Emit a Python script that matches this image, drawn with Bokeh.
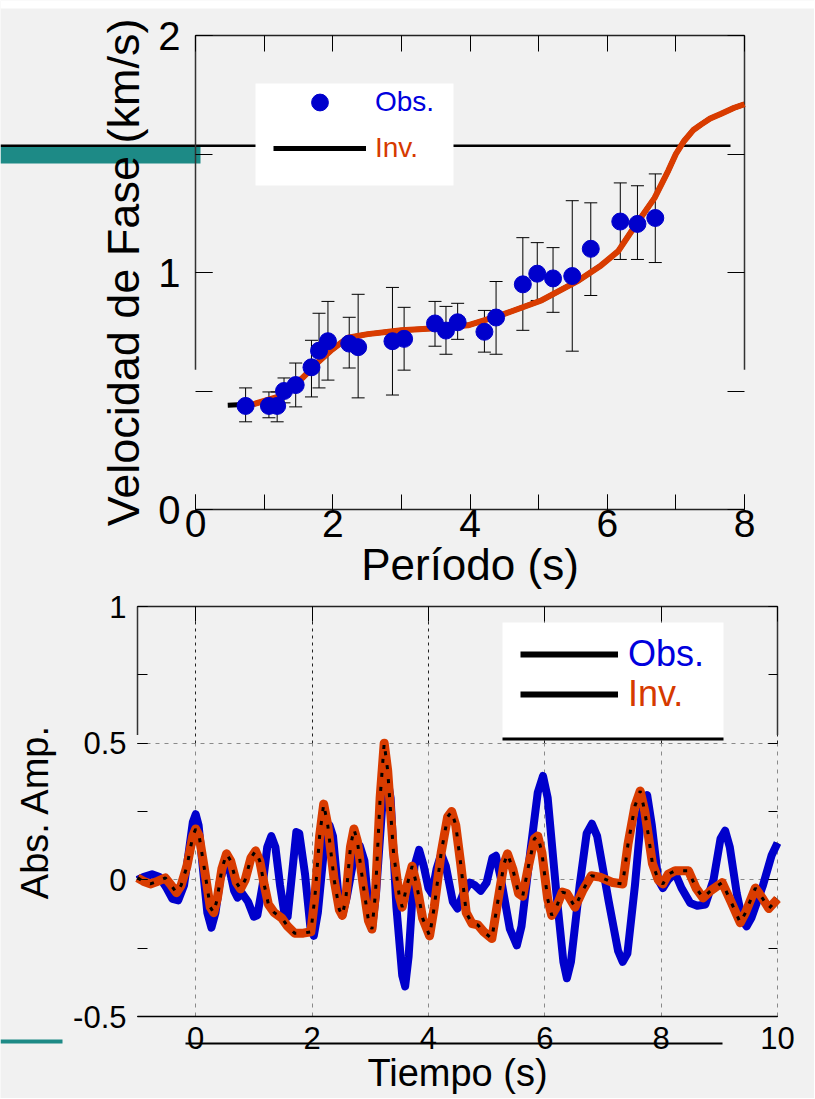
from bokeh.plotting import figure
from bokeh.models import (ColumnDataSource, Whisker, TeeHead, Legend, LegendItem, Grid,
                          SingleIntervalTicker, LinearAxis, Range1d, BoxAnnotation,
                          CustomJSTickFormatter)
from bokeh.embed import file_html
from bokeh.resources import INLINE

# ---------------- Top panel: dispersion curve ----------------
periodo_obs = [0.73, 1.07, 1.19, 1.29, 1.46, 1.69, 1.80, 1.93, 2.24, 2.37, 2.87, 3.04,
               3.49, 3.65, 3.82, 4.21, 4.38, 4.77, 4.98, 5.21, 5.49, 5.76, 6.19, 6.44, 6.70]
vel_obs = [0.437, 0.437, 0.437, 0.50, 0.525, 0.60, 0.67, 0.71, 0.70, 0.685, 0.71, 0.72,
           0.785, 0.755, 0.79, 0.75, 0.81, 0.95, 0.995, 0.975, 0.985, 1.10, 1.215, 1.205, 1.23]
vel_sup = [0.513, 0.496, 0.496, 0.555, 0.618, 0.714, 0.828, 0.878, 0.811, 0.908, 0.937, 0.853,
           0.878, 0.857, 0.870, 0.840, 0.962, 1.147, 1.126, 1.105, 1.303, 1.294, 1.378, 1.366, 1.416]
vel_inf = [0.370, 0.387, 0.370, 0.450, 0.433, 0.475, 0.513, 0.546, 0.597, 0.471, 0.483, 0.588,
           0.689, 0.655, 0.718, 0.664, 0.655, 0.756, 0.882, 0.832, 0.668, 0.903, 1.055, 1.055, 1.042]

periodo_inv = [0.47, 0.85, 1.2, 1.56, 1.78, 1.97, 2.22, 2.51, 3.0, 3.5, 3.97, 4.45, 5.04,
               5.58, 5.91, 6.16, 6.39, 6.69, 6.89, 7.0, 7.12, 7.25, 7.37, 7.5, 7.66, 7.85, 8.0]
vel_inv = [0.44, 0.445, 0.475, 0.555, 0.62, 0.67, 0.725, 0.74, 0.756, 0.765, 0.777, 0.82, 0.882,
           0.966, 1.03, 1.09, 1.19, 1.315, 1.43, 1.50, 1.555, 1.60, 1.625, 1.65, 1.67, 1.695, 1.71]

# ---------------- Bottom panel: waveforms ----------------
t_obs = [-1.0, -0.9, -0.75, -0.62, -0.5, -0.4, -0.3, -0.2, -0.12, -0.05, 0.0, 0.05, 0.12, 0.2,
         0.27, 0.34, 0.42, 0.5, 0.58, 0.66, 0.72, 0.8, 0.9, 1.0, 1.06, 1.15, 1.23, 1.3, 1.37,
         1.45, 1.53, 1.58, 1.66, 1.73, 1.78, 1.88, 1.97, 2.03, 2.1, 2.2, 2.3, 2.36, 2.45, 2.52,
         2.6, 2.72, 2.82, 2.9, 2.97, 3.03, 3.1, 3.2, 3.28, 3.35, 3.45, 3.55, 3.6, 3.66, 3.76,
         3.84, 3.92, 4.0, 4.06, 4.14, 4.22, 4.3, 4.42, 4.5, 4.6, 4.71, 4.8, 4.9, 5.0, 5.1, 5.16,
         5.25, 5.4, 5.52, 5.6, 5.75, 5.88, 5.97, 6.05, 6.2, 6.32, 6.38, 6.45, 6.6, 6.72, 6.81,
         6.9, 7.1, 7.26, 7.34, 7.42, 7.55, 7.66, 7.76, 7.84, 7.95, 8.03, 8.12, 8.24, 8.35, 8.5,
         8.62, 8.76, 8.9, 9.02, 9.1, 9.18, 9.3, 9.4, 9.47, 9.55, 9.75, 9.9, 10.0]
amp_obs = [0.0, 0.01, 0.02, 0.01, -0.03, -0.07, -0.075, -0.02, 0.1, 0.21, 0.24, 0.2, 0.05, -0.12,
           -0.175, -0.12, 0.0, 0.055, 0.04, -0.04, -0.065, -0.05, -0.08, -0.135, -0.13, -0.02, 0.12,
           0.16, 0.12, -0.02, -0.13, -0.135, 0.03, 0.175, 0.17, 0.02, -0.17, -0.205, -0.12, 0.1,
           0.2, 0.16, -0.05, -0.13, -0.06, 0.08, 0.125, 0.07, -0.1, -0.18, -0.05, 0.25, 0.39, 0.3,
           -0.1, -0.35, -0.39, -0.28, 0.05, 0.11, 0.05, -0.03, -0.05, 0.04, 0.095, 0.05, -0.08,
           -0.105, -0.05, -0.01, -0.02, -0.04, -0.01, 0.08, 0.088, 0.0, -0.18, -0.24, -0.17, 0.1,
           0.32, 0.38, 0.3, -0.05, -0.3, -0.36, -0.3, -0.02, 0.17, 0.205, 0.16, -0.08, -0.26,
           -0.30, -0.27, -0.02, 0.24, 0.31, 0.2, 0.0, -0.03, 0.0, 0.025, -0.03, -0.085, -0.095,
           -0.09, 0.0, 0.15, 0.18, 0.12, -0.05, -0.15, -0.17, -0.14, -0.02, 0.09, 0.135]

t_inv = [-1.0, -0.9, -0.78, -0.65, -0.52, -0.42, -0.33, -0.25, -0.15, -0.05, 0.0, 0.06, 0.15,
         0.25, 0.31, 0.37, 0.45, 0.53, 0.6, 0.7, 0.77, 0.85, 0.95, 1.03, 1.1, 1.18, 1.25, 1.35,
         1.48, 1.58, 1.7, 1.85, 1.98, 2.05, 2.13, 2.2, 2.27, 2.38, 2.47, 2.52, 2.58, 2.66, 2.72,
         2.78, 2.88, 2.97, 3.03, 3.09, 3.17, 3.24, 3.3, 3.4, 3.5, 3.55, 3.62, 3.72, 3.8, 3.9,
         4.02, 4.1, 4.22, 4.33, 4.4, 4.47, 4.56, 4.65, 4.75, 4.85, 4.95, 5.09, 5.2, 5.3, 5.36,
         5.45, 5.55, 5.62, 5.72, 5.82, 5.88, 5.95, 6.05, 6.12, 6.2, 6.3, 6.38, 6.52, 6.65, 6.8,
         6.95, 7.17, 7.34, 7.43, 7.55, 7.64, 7.72, 7.85, 7.95, 8.03, 8.12, 8.24, 8.47, 8.6, 8.72,
         8.85, 9.05, 9.2, 9.36, 9.45, 9.62, 9.75, 9.85, 10.0]
amp_inv = [0.007, -0.005, -0.015, -0.005, 0.007, -0.02, -0.047, -0.02, 0.05, 0.16, 0.186, 0.16,
           0.04, -0.1, -0.12, -0.07, 0.04, 0.095, 0.07, -0.01, -0.033, 0.0, 0.08, 0.106, 0.07,
           -0.02, -0.09, -0.12, -0.14, -0.17, -0.195, -0.195, -0.19, -0.06, 0.16, 0.277, 0.2, 0.0,
           -0.11, -0.13, -0.07, 0.12, 0.186, 0.14, -0.02, -0.15, -0.18, -0.05, 0.3, 0.50, 0.4, 0.1,
           -0.06, -0.10, -0.03, 0.05, -0.02, -0.14, -0.205, -0.1, 0.1, 0.23, 0.25, 0.2, 0.05, -0.12,
           -0.16, -0.165, -0.19, -0.215, -0.07, 0.06, 0.095, 0.04, -0.05, -0.06, 0.05, 0.15, 0.16,
           0.1, -0.07, -0.13, -0.1, -0.045, -0.05, -0.10, -0.04, 0.015, 0.01, -0.01, -0.015, 0.13,
           0.27, 0.325, 0.25, 0.06, 0.0, -0.015, 0.02, 0.033, 0.033, -0.03, -0.066, -0.04, -0.01,
           -0.08, -0.157, -0.12, -0.03, -0.07, -0.105, -0.07]

# ---------------- layout & style ----------------
W, H = 814, 1098
BG = "#f1f1f1"
BLUE = "#0000CC"
ORANGE = "#D93C00"
TEAL = "#1d8a86"
FONT = "Liberation Sans"

# pixel placement of the two plot boxes
T_X0, T_X1, T_Y0, T_Y1 = 195, 744, 509, 35       # top: x 0..8, y 0..2
B_X0, B_X1, B_Y0, B_Y1 = 137, 777, 1016, 606      # bottom: x -1..10, y -0.5..1


def tpx(px):
    return (px - T_X0) / (T_X1 - T_X0) * 8


def tpy(py):
    return (T_Y0 - py) / (T_Y0 - T_Y1) * 2


def bpx(px):
    return -1 + (px - B_X0) / (B_X1 - B_X0) * 11


def bpy(py):
    return -0.5 + (B_Y0 - py) / (B_Y0 - B_Y1) * 1.5


p = figure(width=W, height=H, x_range=Range1d(tpx(0), tpx(W)), y_range=Range1d(tpy(H), tpy(0)),
           x_axis_location=None, y_axis_location=None, min_border=0,
           output_backend="svg", toolbar_location=None,
           background_fill_color=BG, border_fill_color=BG, outline_line_color=None)
p.extra_x_ranges = {"bx": Range1d(bpx(0), bpx(W))}
p.extra_y_ranges = {"by": Range1d(bpy(H), bpy(0))}
p.grid.visible = False

BR = dict(x_range_name="bx", y_range_name="by")


def make_axis(loc, bounds, ticker, tick_in, minor_in, label_size=None, line=True, **kw):
    ax = LinearAxis(fixed_location=loc, bounds=bounds, ticker=ticker, **kw)
    ax.major_tick_in = tick_in
    ax.major_tick_out = 0
    ax.minor_tick_in = minor_in
    ax.minor_tick_out = 0
    ax.major_tick_line_color = "black"
    ax.minor_tick_line_color = "black" if minor_in else None
    ax.axis_line_color = "#222222" if line else None
    ax.axis_line_width = 1.5
    ax.major_label_text_font = FONT
    ax.axis_label_text_font = FONT
    ax.axis_label_text_font_style = "normal"
    ax.axis_label_text_color = "black"
    if label_size:
        ax.major_label_text_font_size = label_size
        ax.major_label_text_color = "black"
    else:
        ax.major_label_text_color = None
    return ax


# ---- slide decorations (behind) ----
p.add_layout(BoxAnnotation(left=tpx(0), right=tpx(W), bottom=tpy(8), top=tpy(0),
                           fill_color="white", fill_alpha=1, line_color=None, level="underlay"))
p.add_layout(BoxAnnotation(left=tpx(0), right=tpx(730), bottom=tpy(146.5), top=tpy(144),
                           fill_color="black", fill_alpha=1, line_color=None, level="underlay"))
p.add_layout(BoxAnnotation(left=tpx(0), right=tpx(200), bottom=tpy(163), top=tpy(146.5),
                           fill_color=TEAL, fill_alpha=1, line_color=None, level="underlay"))
p.add_layout(BoxAnnotation(left=bpx(185), right=bpx(722), bottom=bpy(1044), top=bpy(1042),
                           fill_color="black", fill_alpha=1, line_color=None, level="underlay", **BR))
p.add_layout(BoxAnnotation(left=bpx(0), right=bpx(62), bottom=bpy(1043), top=bpy(1039),
                           fill_color=TEAL, fill_alpha=1, line_color=None, level="underlay", **BR))

# ================= top panel =================
ax = make_axis(0, (0, 8), SingleIntervalTicker(interval=2, num_minor_ticks=2), 15, 15, "39px")
ax.major_label_standoff = 0
ax.axis_label = "Período (s)"
ax.axis_label_text_font_size = "44px"
ax.axis_label_standoff = 0
p.add_layout(ax, "below")

ay = make_axis(0, (0, 2), SingleIntervalTicker(interval=1, num_minor_ticks=2), 17, 17, "40px", line=False)
ay.major_label_standoff = 15
ay.axis_label = "Velocidad de Fase (km/s)"
ay.axis_label_text_font_size = "45px"
ay.axis_label_standoff = 6
p.add_layout(ay, "left")

p.add_layout(make_axis(2, (0, 8), SingleIntervalTicker(interval=1, num_minor_ticks=0), 16, 0), "above")
p.add_layout(make_axis(8, (0, 2), SingleIntervalTicker(interval=0.5, num_minor_ticks=0), 17, 0,
                       line=False), "right")

# partial side lines of the box
p.segment(x0=[0, 8], y0=[0.59, 0.59], x1=[0, 8], y1=[2, 2], line_color="#333333", line_width=1.5)

inv_black = p.line(periodo_inv, vel_inv, line_color="black", line_width=5)
p.line(periodo_inv[1:], vel_inv[1:], line_color=ORANGE, line_width=6)

err_src = ColumnDataSource(dict(x=periodo_obs, upper=vel_sup, lower=vel_inf))
p.add_layout(Whisker(source=err_src, base="x", upper="upper", lower="lower",
                     line_color="black", line_width=1, level="underlay",
                     upper_head=TeeHead(size=13, line_width=1, line_color="black"),
                     lower_head=TeeHead(size=13, line_width=1, line_color="black")))
pts = p.scatter(periodo_obs, vel_obs, size=17, fill_color=BLUE, line_color=BLUE)

p.add_layout(BoxAnnotation(left=tpx(255), right=tpx(453), bottom=tpy(185), top=tpy(83),
                           fill_color="white", fill_alpha=1, line_color=None, level="underlay"))
legend_style = dict(padding=0, margin=0, spacing=0, label_text_font=FONT,
                    background_fill_alpha=0, border_line_alpha=0)
p.add_layout(Legend(items=[LegendItem(label="Obs.", renderers=[pts])], location=(273, H - 123),
                    glyph_width=93, glyph_height=42, label_height=42, label_standoff=9,
                    label_text_font_size="28px", label_text_color="#0000DD", **legend_style))
p.add_layout(Legend(items=[LegendItem(label="Inv.", renderers=[inv_black])], location=(273, H - 164),
                    glyph_width=93, glyph_height=30, label_height=30, label_standoff=9,
                    label_text_font_size="28px", label_text_color="#D63A00", **legend_style))

# ================= bottom panel =================
grid_kw = dict(grid_line_width=1, **BR)
p.add_layout(Grid(dimension=0, ticker=SingleIntervalTicker(interval=2, num_minor_ticks=0),
                  bounds=(-1, 10.001), cross_bounds=(-0.5, 0.5), grid_line_color="#8a8a8a",
                  grid_line_dash="4 5", **grid_kw))
p.add_layout(Grid(dimension=0, ticker=SingleIntervalTicker(interval=2, num_minor_ticks=0),
                  bounds=(-1, 10.001), cross_bounds=(0.5, 1), grid_line_color="#222222",
                  grid_line_dash="3 4", **grid_kw))
p.add_layout(Grid(dimension=1, ticker=SingleIntervalTicker(interval=0.5, num_minor_ticks=0),
                  bounds=(-0.5, 0.9), cross_bounds=(-1, 10), grid_line_color="#8a8a8a",
                  grid_line_dash="4 5", **grid_kw))

bx = make_axis(-0.5, (-1, 10), SingleIntervalTicker(interval=2, num_minor_ticks=0), 0, 0, "31px", **BR)
bx.axis_line_color = "black"
bx.major_label_standoff = 10
bx.axis_label = "Tiempo (s)"
bx.axis_label_text_font_size = "38px"
bx.axis_label_standoff = 0
p.add_layout(bx, "below")

by = make_axis(-1, (-0.5, 1), SingleIntervalTicker(interval=0.5, num_minor_ticks=2), 10, 10, "31px",
               line=False, **BR)
by.formatter = CustomJSTickFormatter(code="return String(tick)")
by.major_label_text_baseline = "alphabetic"
by.major_label_standoff = 11
by.axis_label = "Abs. Amp."
by.axis_label_text_font_size = "38px"
by.axis_label_standoff = 14
p.add_layout(by, "left")

p.add_layout(make_axis(1, (-1, 10), SingleIntervalTicker(interval=2, num_minor_ticks=0), 15, 0, **BR),
             "above")
p.add_layout(make_axis(10, (-0.5, 1), SingleIntervalTicker(interval=0.5, num_minor_ticks=2), 9, 9,
                       line=False, **BR), "right")

p.segment(x0=[-1, 10], y0=[0.53, 0.53], x1=[-1, 10], y1=[1, 1], line_color="#333333",
          line_width=1.5, **BR)

obs_black = p.line(t_obs, amp_obs, line_color="black", line_width=6, **BR)
p.line(t_obs, amp_obs, line_color=BLUE, line_width=8, line_join="round", **BR)
inv_black2 = p.line(t_inv, amp_inv, line_color="black", line_width=6, **BR)
p.line(t_inv, amp_inv, line_color=ORANGE, line_width=9, line_join="round", **BR)
p.line(t_inv, amp_inv, line_color="black", line_width=3, line_dash="4 10", **BR)

p.add_layout(BoxAnnotation(left=bpx(502), right=bpx(723), bottom=bpy(738), top=bpy(622),
                           fill_color="white", fill_alpha=1, line_color=None, **BR))
p.add_layout(BoxAnnotation(left=bpx(502), right=bpx(723), bottom=bpy(740), top=bpy(737),
                           fill_color="black", fill_alpha=1, line_color=None, **BR))
p.add_layout(Legend(items=[LegendItem(label="Obs.", renderers=[obs_black])], location=(520, H - 675),
                    glyph_width=98, glyph_height=36, label_height=36, label_standoff=10,
                    label_text_font_size="36px", label_text_color="#0000DD", **legend_style))
p.add_layout(Legend(items=[LegendItem(label="Inv.", renderers=[inv_black2])], location=(520, H - 715),
                    glyph_width=98, glyph_height=36, label_height=36, label_standoff=10,
                    label_text_font_size="36px", label_text_color="#D63A00", **legend_style))

open("out.html", "w").write(file_html(p, INLINE))
